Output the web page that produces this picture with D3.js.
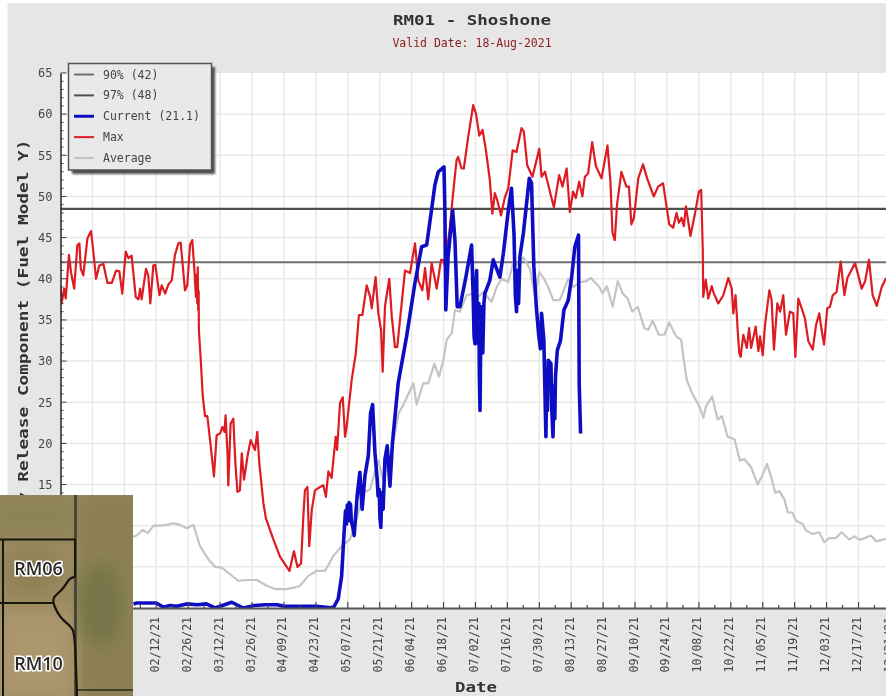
<!DOCTYPE html>
<html><head><meta charset="utf-8">
<script src="https://cdn.jsdelivr.net/npm/d3@7/dist/d3.min.js"></script>
<style>html,body{margin:0;padding:0;background:#fff;overflow:hidden}svg{display:block}</style>
</head><body><div id="chart"></div>
<script>
const titleText = "RM01 - Shoshone";
const subtitleText = "Valid Date: 18-Aug-2021";
const yTitle = "Energy Release Component (Fuel Model Y)";
const xTitle = "Date";
const threshold90 = 42;
const threshold97 = 48.5;
const legendLabels = ["90% (42)", "97% (48)", "Current (21.1)", "Max", "Average"];
const insetLabels = ["RM06", "RM10"];
// [day of 2021 (0 = Jan 1), value]
const maxSeries = [[0,39.2],[0.5,37],[1.6,38.8],[2.3,37.6],[3.7,42.9],[4.6,40.8],[6,38.8],[7.4,44.1],[8.3,44.3],[8.9,41.2],[10,40.4],[11.8,44.9],[13.4,45.8],[14.4,43.3],[15.6,40],[17,41.6],[18.8,41.8],[20.6,39.5],[22.5,39.5],[24.4,41],[25.8,40.9],[27.1,38.2],[28.6,43.3],[29.8,42.5],[31.2,42.8],[33,37.8],[34.2,37.5],[34.9,38.8],[35.6,37.5],[37.5,41.2],[38.5,40.4],[39.4,37],[40.7,41.6],[41.6,41.7],[43.4,38],[44.4,39.2],[45.9,38.2],[47.3,39.3],[48.8,39.8],[50.2,42.9],[51.7,44.3],[52.7,44.4],[54.6,38.6],[55.6,39.2],[56.8,44.1],[57.8,44.7],[58.7,41.2],[59.4,37.8],[59.7,40.5],[60,37],[60.2,41.4],[60.4,36.2],[60.6,38.5],[60.7,33.8],[61.6,29.7],[62.4,25.7],[63.4,23.3],[64.4,23.3],[65.6,20.4],[67.3,16],[68.5,21],[70,21.2],[71,22],[71.9,21.4],[72.4,23.4],[73.3,18.4],[73.6,14.9],[74.6,22.4],[75.8,23],[76.7,17.6],[77.6,14.1],[78.7,14.3],[79.5,18.8],[80.5,15.6],[82,18.4],[83.4,20.4],[85.3,19.2],[86.3,21.4],[87.2,17.6],[89,12.7],[90.1,10.9],[93.4,8.3],[96.3,6.2],[100.4,4.5],[102.4,6.9],[103.9,5],[105.5,5.4],[106.5,11.1],[107.2,14.3],[108.3,14.7],[109.1,7.5],[110.2,11.9],[111.6,14.3],[113.8,14.7],[115.3,14.9],[116.4,13.5],[117.5,16.6],[118.9,15.8],[120.7,20.8],[121.3,19.2],[122.6,24.9],[123.8,25.6],[124.8,20.8],[125.5,22],[127.7,27.7],[129.5,30.9],[130.9,35.6],[132.4,35.6],[134.3,39.2],[135.8,37.8],[136.5,36.4],[138.2,40.2],[139.4,35.8],[140.6,33.8],[141.3,28.7],[142.3,36.6],[144.2,40],[145.3,35.4],[146.7,31.7],[147.7,31.7],[148.9,35],[151.1,41],[153.3,40.7],[155.5,44.3],[156.9,39.8],[158.7,38.6],[159.9,41.3],[161.3,37.5],[162.8,41.9],[165,38.8],[166.9,42.3],[167.9,42.3],[168.6,41.5],[170.8,46.3],[172.2,50.4],[173.7,54.4],[174.4,54.8],[175.9,53.4],[176.9,53.4],[178.8,57.2],[181,61.1],[182.2,60.1],[183.7,57.4],[185.1,58.1],[186.6,55.6],[188.3,52],[189.4,47.9],[190.5,50.4],[191.5,49.6],[193.2,47.7],[194.9,49.9],[196.4,51],[198.3,55.6],[200,55.4],[202.2,58.3],[203.2,57.9],[204.7,53.8],[207,52.4],[210,55.8],[211,52.4],[212.5,53],[215,50.2],[216.4,48.7],[218.7,52.6],[220.2,51.2],[222,53.4],[223.4,48.1],[224.8,50.6],[226,49.8],[227.5,51.8],[228.9,50],[230,52.4],[231.4,52.8],[233.2,56.6],[234.8,53.7],[237.3,52.2],[239.9,56.2],[241.2,51.8],[242.1,45.6],[243.1,44.7],[244.1,49],[246,53],[248.2,51.2],[249.3,51.2],[250.4,46.6],[251.5,47.4],[253.4,52.2],[255.5,53.9],[257.3,52.2],[260.2,50],[262.1,51.2],[264.3,51.6],[265.8,48.8],[267,46.6],[268.7,46.2],[270.2,48],[271.2,46.8],[272.4,47.4],[273.4,46.4],[274.3,48.8],[276.3,45.2],[278.2,47.8],[280,50.6],[281,50.8],[281.7,43.5],[281.9,37.8],[283,39.9],[284.1,37.6],[285.6,39.1],[286.6,38.2],[288.5,37],[290.7,38],[292.9,40.1],[294.4,38.8],[295.1,35.8],[296.1,38],[297,33.8],[297.7,31],[298.3,30.5],[299.5,33.2],[301,31.6],[302,34],[302.9,31.6],[304.9,34.2],[306.1,31.2],[306.8,33],[308,30.7],[309,34.4],[310.9,38.6],[311.9,37.4],[312.9,31.4],[314.4,37],[315.6,36],[317,38],[318.2,33.2],[319.9,36],[321.4,35.8],[322.3,30.5],[323.6,37.6],[325.1,36.4],[326.5,35.2],[328,32.4],[329.9,31.4],[331.4,34.4],[332.8,35.8],[333.8,33.8],[334.9,32],[336.3,36.4],[337.5,36.6],[338.7,38],[340.4,38.4],[342.2,42.1],[343.8,38],[345.1,40.1],[348.5,41.9],[351.4,38.8],[352.9,39.7],[354.6,42.3],[356.2,38],[358,36.7],[360.2,39],[362.1,40.1]];
const currentSeries = [[32,0.5],[33.4,0.6],[36,0.6],[38.5,0.6],[42,0.6],[45.1,0.1],[48,0.3],[51,0.2],[55.3,0.5],[60,0.4],[64,0.5],[67.8,0],[71,0.3],[75.1,0.7],[80.2,0],[85,0.3],[90,0.4],[95,0.4],[98,0.2],[105,0.2],[112.3,0.2],[119.6,0],[121.8,1.1],[123.3,3.9],[124.3,8.8],[125,11.8],[125.4,10.2],[125.8,12.5],[126.2,10.6],[126.6,12.8],[127.2,12.6],[127.6,10.4],[128.1,10],[128.8,8.8],[130.1,13.6],[131.3,16.5],[131.8,14],[132.3,12],[133.5,16],[135,18.5],[136,23.7],[136.9,24.7],[137.9,18.9],[138.9,15.6],[139.3,13.6],[139.8,14.4],[140.1,11],[140.5,9.8],[140.9,14],[141.5,12],[141.9,15],[142.3,18.1],[143.3,19.7],[144.5,14.8],[145.6,20.1],[148.1,27.3],[151.8,33],[155.4,39.4],[158.4,43.9],[160.6,44.1],[162.7,48.3],[164.2,51.4],[165.7,53],[168.2,53.6],[168.6,48.3],[169,36.2],[170,42.7],[172,48.3],[173,44.7],[174,36.6],[175.2,36.6],[177.8,40.2],[180.3,44.1],[181,37.8],[181.4,33],[181.8,32.1],[182.1,38.5],[182.5,41],[182.8,33],[183.2,32.1],[183.5,37],[183.7,28.5],[184,24],[184.4,35],[184.7,36.6],[185.2,31],[185.7,37],[186.1,38.2],[188.3,39.8],[189.8,42.3],[192.7,40.2],[194.2,43],[196.4,48.3],[197.8,51],[198.9,45.5],[199.5,38],[200,36],[200.5,41],[200.9,37],[201.5,42.7],[203,45.5],[205.6,52.2],[206.6,51.6],[207.6,41.5],[208.8,36.2],[209.8,33],[210.5,31.5],[211,35.8],[212,32.5],[212.9,20.8],[213.3,29],[213.6,24],[213.9,30.1],[215.1,29.7],[215.5,24],[216,20.8],[216.5,27],[216.8,23],[217.1,28.1],[217.9,31.3],[219.3,32.5],[220.8,36.2],[222.7,37.4],[224.2,40.2],[225.6,43.9],[227.2,45.3],[227.5,27.3],[228.1,21.2]];
const averageSeries = [[31,8.6],[33.4,8.8],[36.1,9.5],[38.3,9.1],[40.8,10],[43.7,10],[46.6,10.1],[49.5,10.3],[52.4,10.1],[55.4,9.7],[58.3,10.1],[61.2,7.5],[64.9,5.9],[67.8,5],[70.7,4.9],[74.4,4.1],[78,3.3],[81.7,3.4],[86.1,3.4],[90.5,2.7],[94.1,2.3],[99.2,2.3],[102.9,2.5],[105,2.7],[108.7,3.9],[112.3,4.5],[116,4.5],[119.6,6.3],[123.3,7.5],[126.9,8.3],[129.9,10.8],[132.8,14],[135.7,14.4],[139.4,17.9],[141.5,15.6],[145.2,18.9],[148.2,23.6],[150.4,24.7],[154.8,27.3],[156.2,24.7],[159.1,27.3],[161.3,27.3],[164,29.7],[166,28.1],[167.9,30.1],[169.4,32.6],[171.6,33.4],[173,36.2],[175.2,36],[178.1,38],[181,38.2],[183.2,37.8],[185.4,38.4],[189.1,37.2],[191.3,39],[193.5,40],[196.4,39.6],[198.6,42],[200.8,41.8],[203,42.6],[205.9,41.2],[208.1,37.8],[210,40.8],[211.7,40.2],[213.9,39],[216.1,37.4],[219,37.4],[222.7,40],[224.9,39],[227.8,39.6],[230.5,39.7],[232.7,40.1],[236.3,39],[237.8,38.2],[239.6,39.1],[242.2,36.6],[244.4,39.7],[246.6,38.2],[248.8,37.6],[250.7,36],[253.2,36.6],[256.1,34],[257.8,33.8],[259.7,34.9],[262.4,33.2],[264.9,33.2],[267,34.7],[270,33],[272.2,32.6],[273.6,29.7],[274.7,27.7],[277,26.1],[280.2,24.5],[282,23.1],[283.1,24.5],[285.8,25.7],[288.2,22.9],[290.1,23.3],[292.6,20.8],[295.6,20.5],[298,17.9],[299.9,18.1],[302.9,17.1],[305.8,15],[308,16.2],[309.9,17.5],[311.6,16],[313.5,14],[315.3,14.2],[317.5,13.2],[319,11.6],[320.9,11.6],[322.6,10.6],[325.5,10.2],[327,9.4],[329.9,9],[332.8,9.2],[335,8],[337.2,8.5],[340.1,8.5],[342.6,9.2],[346,8.3],[348.2,8.7],[350.4,8.3],[351.8,8.4],[355.5,8.8],[357.7,8.1],[362.1,8.4]];

const colors = {p90:"#6f6f6f", p97:"#4f4f4f", current:"#1010c4", max:"#dd1c24", average:"#c4c4c4", panel:"#e6e6e6", grid:"#e9e9e9"};
const W = 886, H = 696;
const mono = "'DejaVu Sans Mono', monospace";
const startDate = new Date(2021,0,1), endDate = new Date(2022,0,1);
const dayToDate = d => new Date(+startDate + d*864e5);
const x = d3.scaleTime().domain([startDate,endDate]).range([60.5,892.7]);
const y = d3.scaleLinear().domain([0,65]).range([608,73]);
const plotL = 60.5, plotR = W, plotT = 73, plotB = 608;

const svg = d3.select("#chart").append("svg").attr("width",W).attr("height",H);
const defs = svg.append("defs");
defs.append("filter").attr("id","soft").attr("x","-5%").attr("y","-5%").attr("width","110%").attr("height","110%")
  .append("feGaussianBlur").attr("stdDeviation",0.5);
defs.append("filter").attr("id","patch").append("feGaussianBlur").attr("stdDeviation",9);
defs.append("filter").attr("id","shadow").append("feGaussianBlur").attr("stdDeviation",0.8);
defs.append("clipPath").attr("id","plot").append("rect").attr("x",plotL).attr("y",plotT-2).attr("width",plotR-plotL).attr("height",plotB-plotT+2);
defs.append("clipPath").attr("id","inset").append("rect").attr("x",0).attr("y",495).attr("width",133).attr("height",201);

const root = svg.append("g").attr("filter","url(#soft)");
root.append("rect").attr("x",7.5).attr("y",3).attr("width",W).attr("height",H).attr("fill",colors.panel);
root.append("rect").attr("x",plotL).attr("y",plotT).attr("width",plotR-plotL).attr("height",plotB-plotT).attr("fill","#fff");

// grid
const xMajor = d3.timeDay.range(startDate,endDate,1).filter((d,i)=>i%14===0);
const xMinor = d3.timeDay.range(startDate,endDate,1).filter((d,i)=>i%7===0);
const yMajor = d3.range(0,66,5), yMinor = d3.range(0,66,1);
const grid = root.append("g").attr("stroke",colors.grid).attr("stroke-width",1.5);
grid.selectAll(".gx").data(xMajor.slice(1)).join("line").attr("x1",d=>x(d)).attr("x2",d=>x(d)).attr("y1",plotT).attr("y2",plotB);
grid.selectAll(".gy").data(yMajor.slice(1,-1)).join("line").attr("x1",plotL).attr("x2",plotR).attr("y1",d=>y(d)).attr("y2",d=>y(d));

// thresholds
[[threshold90,colors.p90,2],[threshold97,colors.p97,2.2]].forEach(([v,c,w])=>{
  root.append("line").attr("x1",plotL).attr("x2",plotR).attr("y1",y(v)).attr("y2",y(v)).attr("stroke",c).attr("stroke-width",w);
});

// series
const line = d3.line().x(d=>x(dayToDate(d[0]))).y(d=>y(d[1])).curve(d3.curveLinear);
const seriesG = root.append("g").attr("clip-path","url(#plot)").attr("fill","none").attr("stroke-linejoin","round");
seriesG.append("path").datum(averageSeries).attr("d",line).attr("stroke",colors.average).attr("stroke-width",2.2);
seriesG.append("path").datum(maxSeries).attr("d",line).attr("stroke",colors.max).attr("stroke-width",2.2);
seriesG.append("path").datum(currentSeries).attr("d",line).attr("stroke",colors.current).attr("stroke-width",3.6);

// axes
const style = g => { g.selectAll("text").attr("font-family",mono).attr("fill","#444"); g.selectAll("path,line").attr("stroke","#333"); };
const gY = root.append("g").attr("transform",`translate(${plotL},0)`);
gY.call(d3.axisLeft(y).tickValues(yMajor.slice(1)).tickSize(0).tickPadding(8).tickFormat(d3.format("d")));
gY.selectAll("text").attr("font-size",12);
style(gY);
gY.select(".domain").attr("stroke-width",1.6);
gY.selectAll(".yt").data(yMinor).join("line").attr("class","yt").attr("x1",0).attr("x2",d=>d%5===0?6:3).attr("y1",d=>y(d)).attr("y2",d=>y(d)).attr("stroke","#444").attr("stroke-width",1);

const gX = root.append("g").attr("transform",`translate(0,${plotB})`);
gX.call(d3.axisBottom(x).tickValues(xMajor).tickSize(0).tickPadding(0).tickFormat(d3.timeFormat("%m/%d/%y")));
gX.selectAll("text").attr("font-size",11.5).attr("text-anchor","end").attr("dy",0)
  .attr("transform","translate(-2,9) rotate(-90)").attr("x",0).attr("y",0).attr("dominant-baseline","central");
style(gX);
gX.select(".domain").attr("stroke-width",1.8).attr("stroke","#555");
gX.selectAll(".xt").data(xMinor).join("line").attr("class","xt").attr("x1",d=>x(d)).attr("x2",d=>x(d)).attr("y1",0).attr("y2",(d,i)=>i%2===0?-6:-3).attr("stroke","#444").attr("stroke-width",1.2);

// titles
const wideText = (sel,len)=>sel.attr("textLength",len).attr("lengthAdjust","spacingAndGlyphs");
root.append("text").text(titleText).attr("x",472).attr("y",25).attr("text-anchor","middle").attr("font-family",mono).attr("font-weight","bold").attr("font-size",14).attr("fill","#333").call(wideText,158);
root.append("text").text(subtitleText).attr("x",472).attr("y",47).attr("text-anchor","middle").attr("font-family",mono).attr("font-size",11.5).attr("fill","#8c1c1c");
root.append("text").text(xTitle).attr("x",476).attr("y",692).attr("text-anchor","middle").attr("font-family",mono).attr("font-weight","bold").attr("font-size",14).attr("fill","#333").call(wideText,42);
root.append("text").text(yTitle).attr("transform","translate(28,348) rotate(-90)").attr("text-anchor","middle").attr("font-family",mono).attr("font-weight","bold").attr("font-size",14).attr("fill","#333").call(wideText,417);

// legend
const legend = root.append("g");
legend.append("rect").attr("x",72).attr("y",67).attr("width",143).attr("height",107).attr("fill","#222").attr("opacity",0.8).attr("filter","url(#shadow)");
legend.append("rect").attr("x",68.5).attr("y",63.5).attr("width",143).attr("height",106.5).attr("fill","#e9e9e9").attr("stroke","#555").attr("stroke-width",1.5);
const legendColors = [colors.p90,colors.p97,colors.current,colors.max,colors.average];
const legendWidths = [2,2,3,2,2];
const ly = d3.scalePoint().domain(legendLabels).range([74.5,158]);
legend.selectAll(".ll").data(legendLabels).join("line").attr("x1",74).attr("x2",94).attr("y1",d=>ly(d)).attr("y2",d=>ly(d)).attr("stroke",(d,i)=>legendColors[i]).attr("stroke-width",(d,i)=>legendWidths[i]);
legend.selectAll(".lt").data(legendLabels).join("text").text(d=>d).attr("x",103).attr("y",d=>ly(d)+4).attr("font-family",mono).attr("font-size",11.5).attr("fill","#444");

// map inset
const inset = root.append("g").attr("clip-path","url(#inset)");
inset.append("rect").attr("x",0).attr("y",495).attr("width",133).attr("height",201).attr("fill","#9a8a5f");
inset.append("rect").attr("x",-10).attr("y",490).attr("width",85).attr("height",50).attr("fill","#8e8358").attr("filter","url(#patch)");
inset.append("rect").attr("x",78).attr("y",490).attr("width",65).attr("height",215).attr("fill","#8c7f55").attr("filter","url(#patch)");
inset.append("rect").attr("x",-5).attr("y",610).attr("width",80).attr("height",90).attr("fill","#ab966d").attr("filter","url(#patch)");
inset.append("ellipse").attr("cx",100).attr("cy",605).attr("rx",22).attr("ry",42).attr("fill","#757548").attr("filter","url(#patch)");
inset.append("ellipse").attr("cx",30).attr("cy",570).attr("rx",28).attr("ry",22).attr("fill","#8f7f54").attr("filter","url(#patch)");
const mapLine = d3.line().curve(d3.curveBasis);
const roads = [
  {pts:[[75.5,495],[75.5,696]],c:"#403e36",w:2.6},
  {pts:[[0,539.5],[75,539.5]],c:"#15130e",w:2},
  {pts:[[3,539],[3,696]],c:"#15130e",w:2},
  {pts:[[0,603],[53,603]],c:"#15130e",w:2},
  {pts:[[75,577],[69,578],[63,590],[52,597],[54,606],[60,618],[72,627],[75,634],[77,696]],c:"#15130e",w:2.2},
  {pts:[[75,539],[75,577]],c:"#15130e",w:2},
  {pts:[[78,690],[133,690]],c:"#2c2a22",w:1.6}
];
inset.selectAll(".road").data(roads).join("path").attr("d",d=>mapLine(d.pts)).attr("fill","none").attr("stroke",d=>d.c).attr("stroke-width",d=>d.w);
inset.selectAll(".mapl").data(insetLabels).join("text").text(d=>d).attr("x",38.5).attr("y",(d,i)=>[575,670][i]).attr("text-anchor","middle")
  .attr("font-family","'Open Sans', sans-serif").attr("font-weight",600).attr("font-size",18).attr("fill","#2a2a2a")
  .attr("stroke","#fff").attr("stroke-width",3).attr("paint-order","stroke");
</script></body></html>
